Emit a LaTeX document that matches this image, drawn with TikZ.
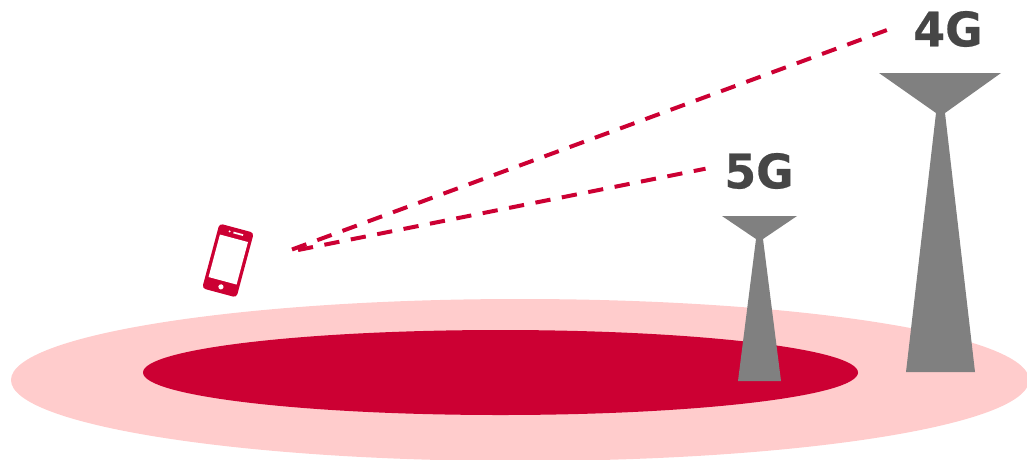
\documentclass[tikz,border=0pt]{standalone}
\usepackage{fontspec}
\setmainfont{DejaVu Sans}
\newfontfamily\labelfont[FakeStretch=0.96,FakeBold=0.5]{DejaVu Sans Bold}
\definecolor{brandred}{HTML}{CC0033}
\definecolor{palered}{HTML}{FFCCCC}
\definecolor{towergrey}{HTML}{808080}
\definecolor{labelgrey}{HTML}{464646}
\tikzset{
  signal/.style={draw=brandred,line width=4pt,dash pattern=on 15.3pt off 11.6pt},
  tower/.style={fill=towergrey,draw=none},
  netlabel/.style={text=labelgrey,inner sep=0pt,font=\labelfont\fontsize{47.5}{47.5}\selectfont}
}
\begin{document}
\begin{tikzpicture}[x=1pt,y=-1pt]
\useasboundingbox (0,0) rectangle (1027,459);
\fill[palered] (520,380) ellipse [x radius=509,y radius=81];
\fill[brandred] (500.5,372.5) ellipse [x radius=357.5,y radius=42.5];
% 5G tower
\fill[tower] (722,216) -- (797,216) -- (763,239) -- (781,381) -- (738,381) -- (756,239) -- cycle;
% 4G tower
\fill[tower] (879,73) -- (1001,73) -- (945,113) -- (975,372) -- (906,372) -- (936,113) -- cycle;
\node[netlabel] (label4g) at (948,29) {4G};
\node[netlabel] (label5g) at (759,171) {5G};
% phone
\begin{scope}[shift={(228,260.5)},rotate=-15]
\fill[brandred,rounded corners=3.5pt] (-17.8,-33.5) rectangle (17.8,33.5);
\fill[white] (-14.5,-23) rectangle (14.5,21);
\fill[white] (0,27.3) circle (2.6);
\fill[white] (-2,-29.3) rectangle (8,-27.6);
\fill[white] (-6,-28.5) circle (1.1);
\end{scope}
\coordinate (phone4g) at (292,249.5);
\coordinate (phone5g) at (298,250);
\coordinate (end4g) at (887,30);
\coordinate (end5g) at (705.5,168.7);
\draw[signal] (phone4g) -- (end4g);
\draw[signal] (phone5g) -- (end5g);
\end{tikzpicture}
\end{document}
